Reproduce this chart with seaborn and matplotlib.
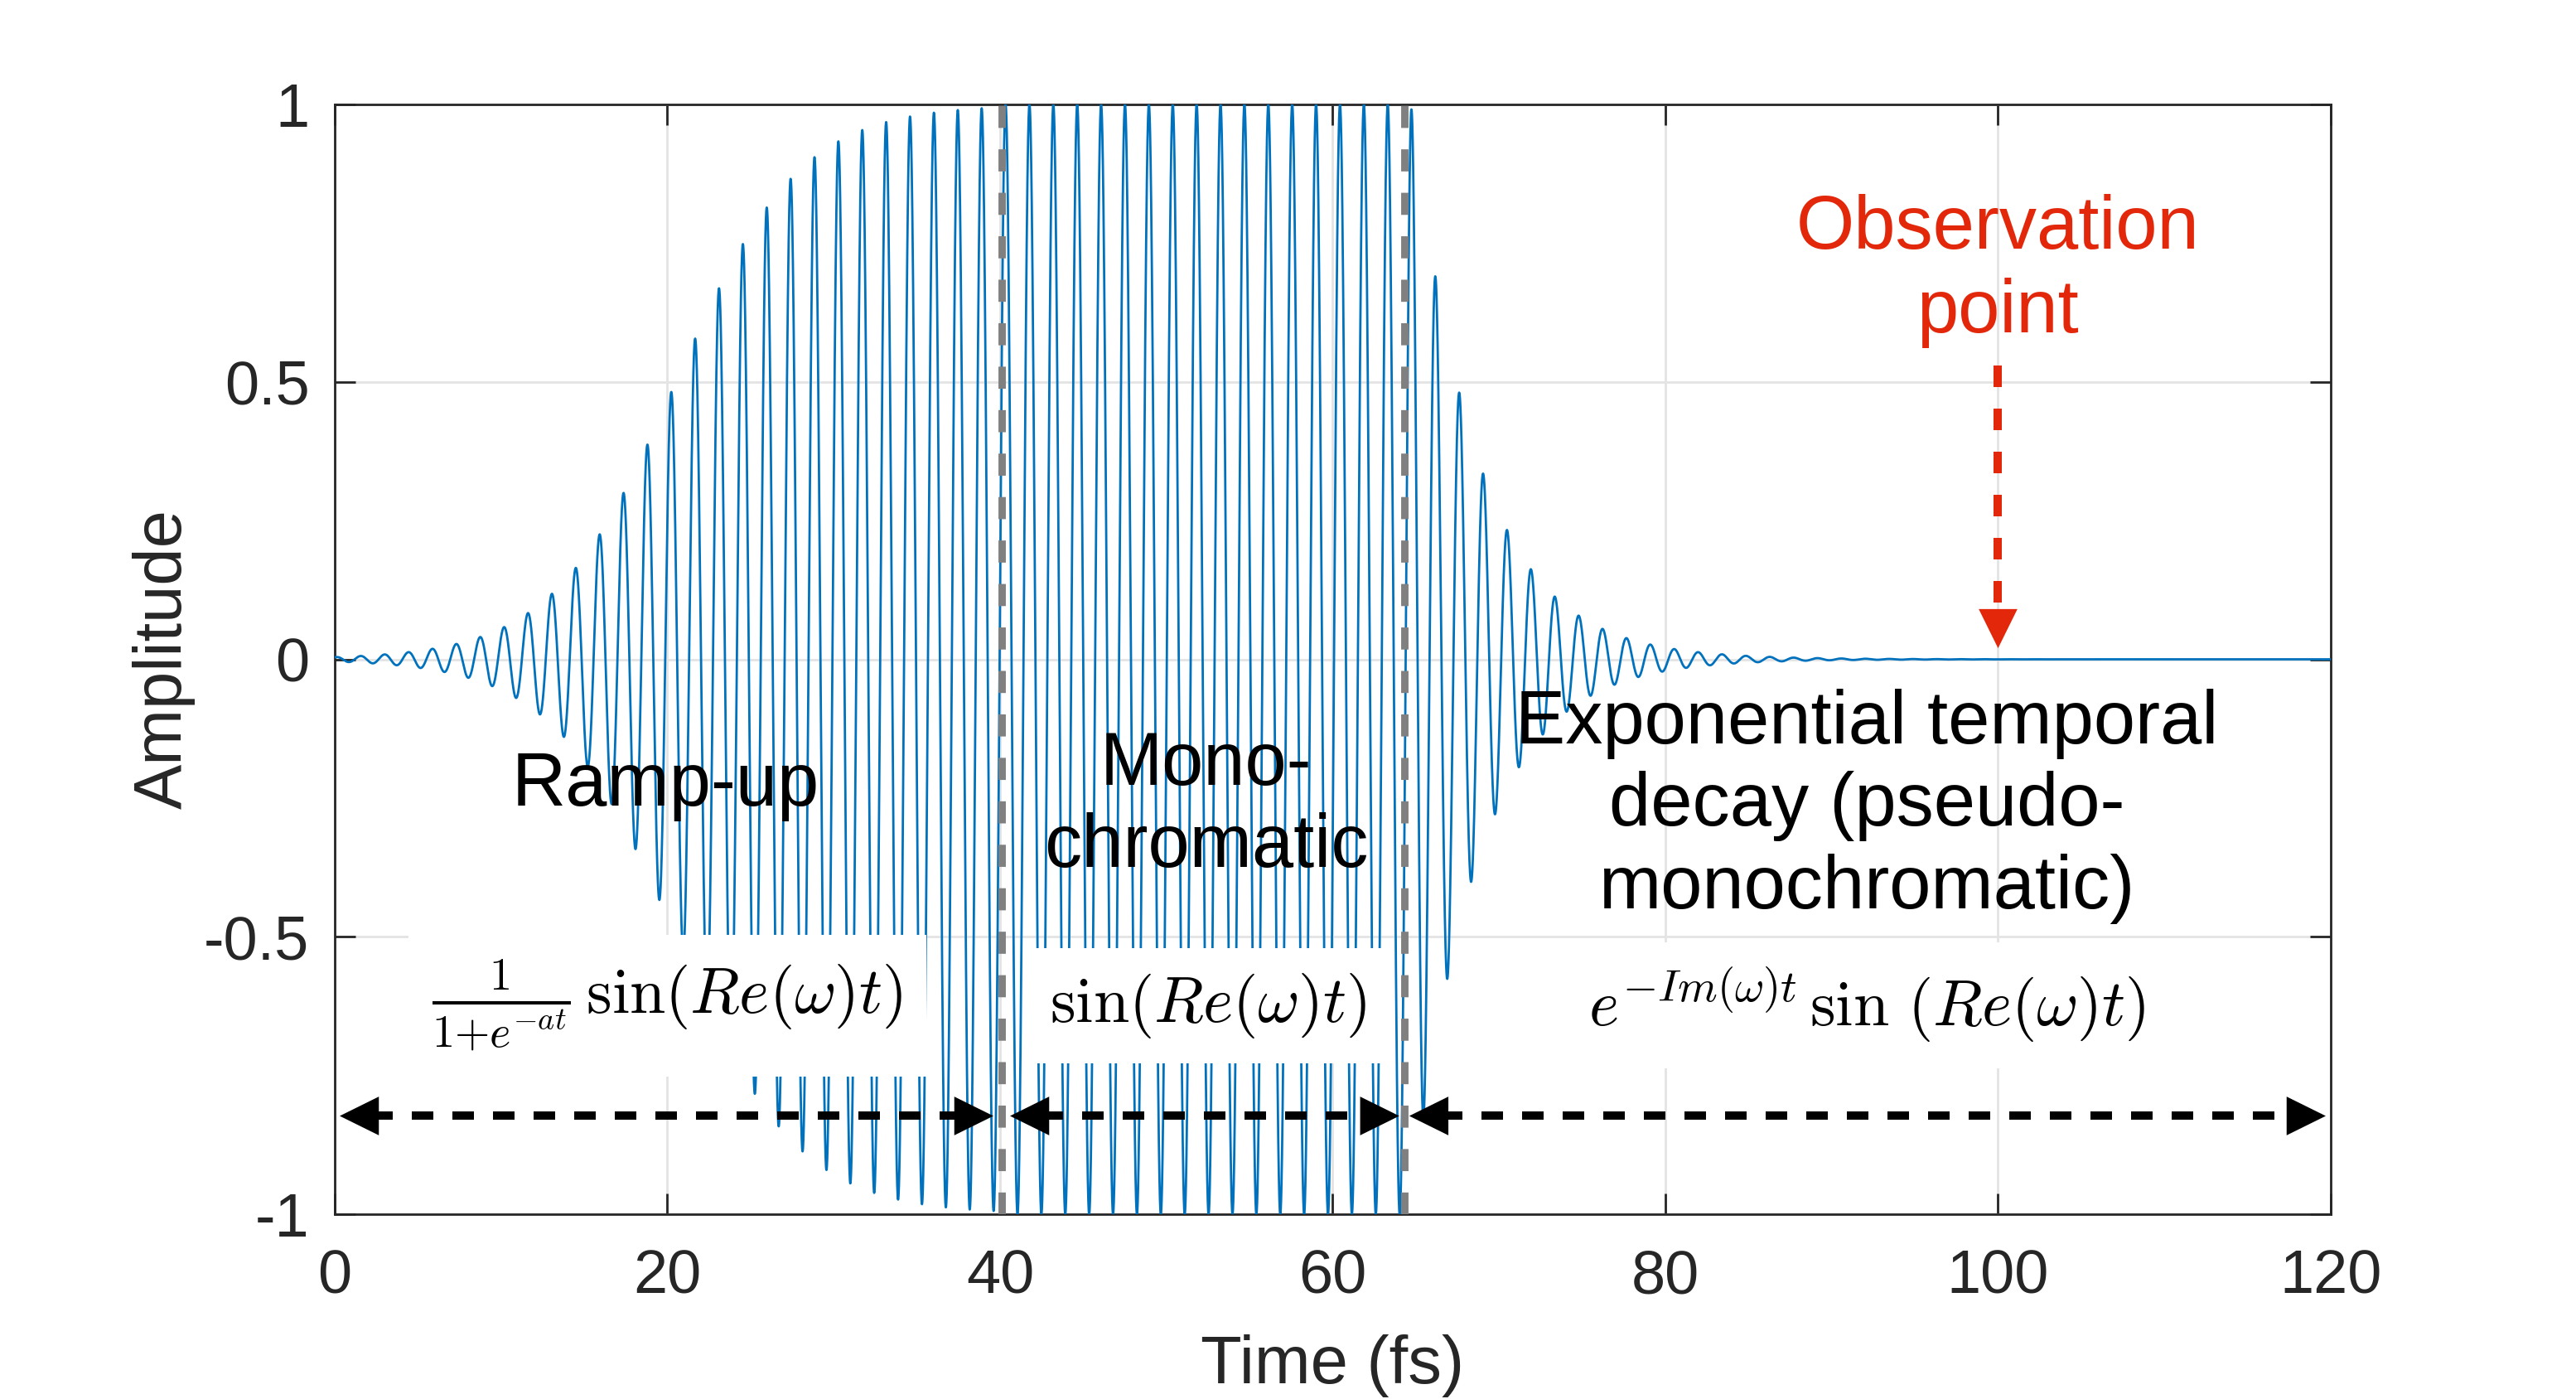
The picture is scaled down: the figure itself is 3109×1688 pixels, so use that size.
import numpy as np
import matplotlib
matplotlib.use('Agg')
import matplotlib.pyplot as plt
import seaborn as sns

# values (time in fs)
time_range = [0, 120]
carrier_period = 1.436        # spacing between crests
crest_time = 40.33            # one crest of the carrier
ramp_rate = 0.27              # a
ramp_mid = 20.5               # envelope = 0.5 here
decay_start = 64.7
decay_rate = 0.252            # Im(w)
boundaries = [40.1, 64.3]     # grey dashed lines
span_starts = [0.3, 40.6, 64.6]
span_ends = [39.6, 64.0, 119.7]
span_y = -0.823
observation_time = 100

region_labels = ['Ramp-up', 'Mono-\nchromatic',
                 'Exponential temporal\ndecay (pseudo-\nmonochromatic)']
region_x = [19.9, 52.4, 92.1]
region_y = [-0.228, -0.265, -0.265]
formulas = [r'$\frac{1}{1{+}e^{-at}}\,\sin(Re(\omega)t)$',
            r'$\sin(Re(\omega)t)$',
            r'$e^{-Im(\omega)t}\,\sin\,(Re(\omega)t)$']
formula_x = [20.0, 52.5, 92.1]
formula_y = -0.624

xticks = [0, 20, 40, 60, 80, 100, 120]
yticks = [-1, -0.5, 0, 0.5, 1]
ytick_labels = ['-1', '-0.5', '0', '0.5', '1']

sns.set_theme(style='white')
plt.rcParams['font.family'] = ['Liberation Sans', 'DejaVu Sans']
plt.rcParams['mathtext.fontset'] = 'cm'
plt.rcParams['axes.unicode_minus'] = False

t = np.linspace(time_range[0], time_range[1], 24001)
sigmoid = 1 / (1 + np.exp(-ramp_rate * (t - ramp_mid)))
envelope = np.where(t < boundaries[0], sigmoid, 1.0)
envelope = np.where(t > decay_start, np.exp(-decay_rate * (t - decay_start)), envelope)
signal = envelope * np.cos(2 * np.pi * (t - crest_time) / carrier_period)

fig = plt.figure(figsize=(3109 / 200, 1688 / 200), dpi=200)
ax = fig.add_axes([404 / 3109, 1 - 1465 / 1688, 2409 / 3109, 1339 / 1688])

sns.lineplot(x=t, y=signal, ax=ax, color='#0072BD', linewidth=1.0,
             estimator=None, sort=False, zorder=3)

for b in boundaries:
    ax.axvline(b, color='#808080', lw=3.2, dashes=(3, 2.9), zorder=4)

# black double arrows marking each regime
hl = 2.35
for x0, x1 in zip(span_starts, span_ends):
    ax.plot([x0 + hl * 0.8, x1 - hl * 0.8], [span_y, span_y], color='black',
            lw=3.6, dashes=(2.6, 2.3), zorder=6)
    for tip, base in [(x0, x0 + hl), (x1, x1 - hl)]:
        ax.annotate('', xy=(tip, span_y), xytext=(base, span_y),
                    arrowprops=dict(arrowstyle='-|>,head_length=0.85,head_width=0.42',
                                    mutation_scale=20, color='black', lw=0,
                                    shrinkA=0, shrinkB=0), zorder=7)

for lab, x, y in zip(region_labels, region_x, region_y):
    ax.text(x, y, lab, ha='center', va='center', fontsize=32.5, color='black',
            linespacing=1.22, zorder=8)

for f, x in zip(formulas, formula_x):
    ax.text(x, formula_y, f, ha='center', va='center', fontsize=28, color='black',
            bbox=dict(facecolor='white', edgecolor='none', pad=10), zorder=5)

# observation point
red = '#E2270B'
ax.text(observation_time, 0.70, 'Observation\npoint', ha='center', va='center',
        fontsize=32.5, color=red, linespacing=1.25, zorder=8)
ax.plot([observation_time, observation_time], [0.53, 0.08], color=red, lw=3.6,
        dashes=(2.6, 2.6), zorder=6)
ax.annotate('', xy=(observation_time, 0.02), xytext=(observation_time, 0.095),
            arrowprops=dict(arrowstyle='-|>,head_length=0.85,head_width=0.42',
                            mutation_scale=20, color=red, lw=0,
                            shrinkA=0, shrinkB=0), zorder=7)

ax.set_xlim(time_range)
ax.set_ylim(-1, 1)
ax.set_xticks(xticks)
ax.set_xticklabels([str(v) for v in xticks])
ax.set_yticks(yticks)
ax.set_yticklabels(ytick_labels)
ax.grid(True, color='#e3e3e3', lw=1.0, zorder=0)
ax.set_axisbelow(True)
ax.tick_params(direction='in', length=9, width=1.0, color='#262626',
               labelcolor='#262626', labelsize=26.6, pad=11,
               top=True, right=True, bottom=True, left=True)
ax.tick_params(axis='x', pad=15)
for s in ax.spines.values():
    s.set_visible(True)
    s.set_color('#262626')
    s.set_linewidth(1.0)

ax.set_xlabel('Time (fs)', fontsize=29.3, color='#262626')
ax.set_ylabel('Amplitude', fontsize=29.3, color='#262626')
ax.xaxis.set_label_coords(0.5, -0.108)
ax.yaxis.set_label_coords(-0.070, 0.5)

fig.savefig('out.png', dpi=200, facecolor='white')
